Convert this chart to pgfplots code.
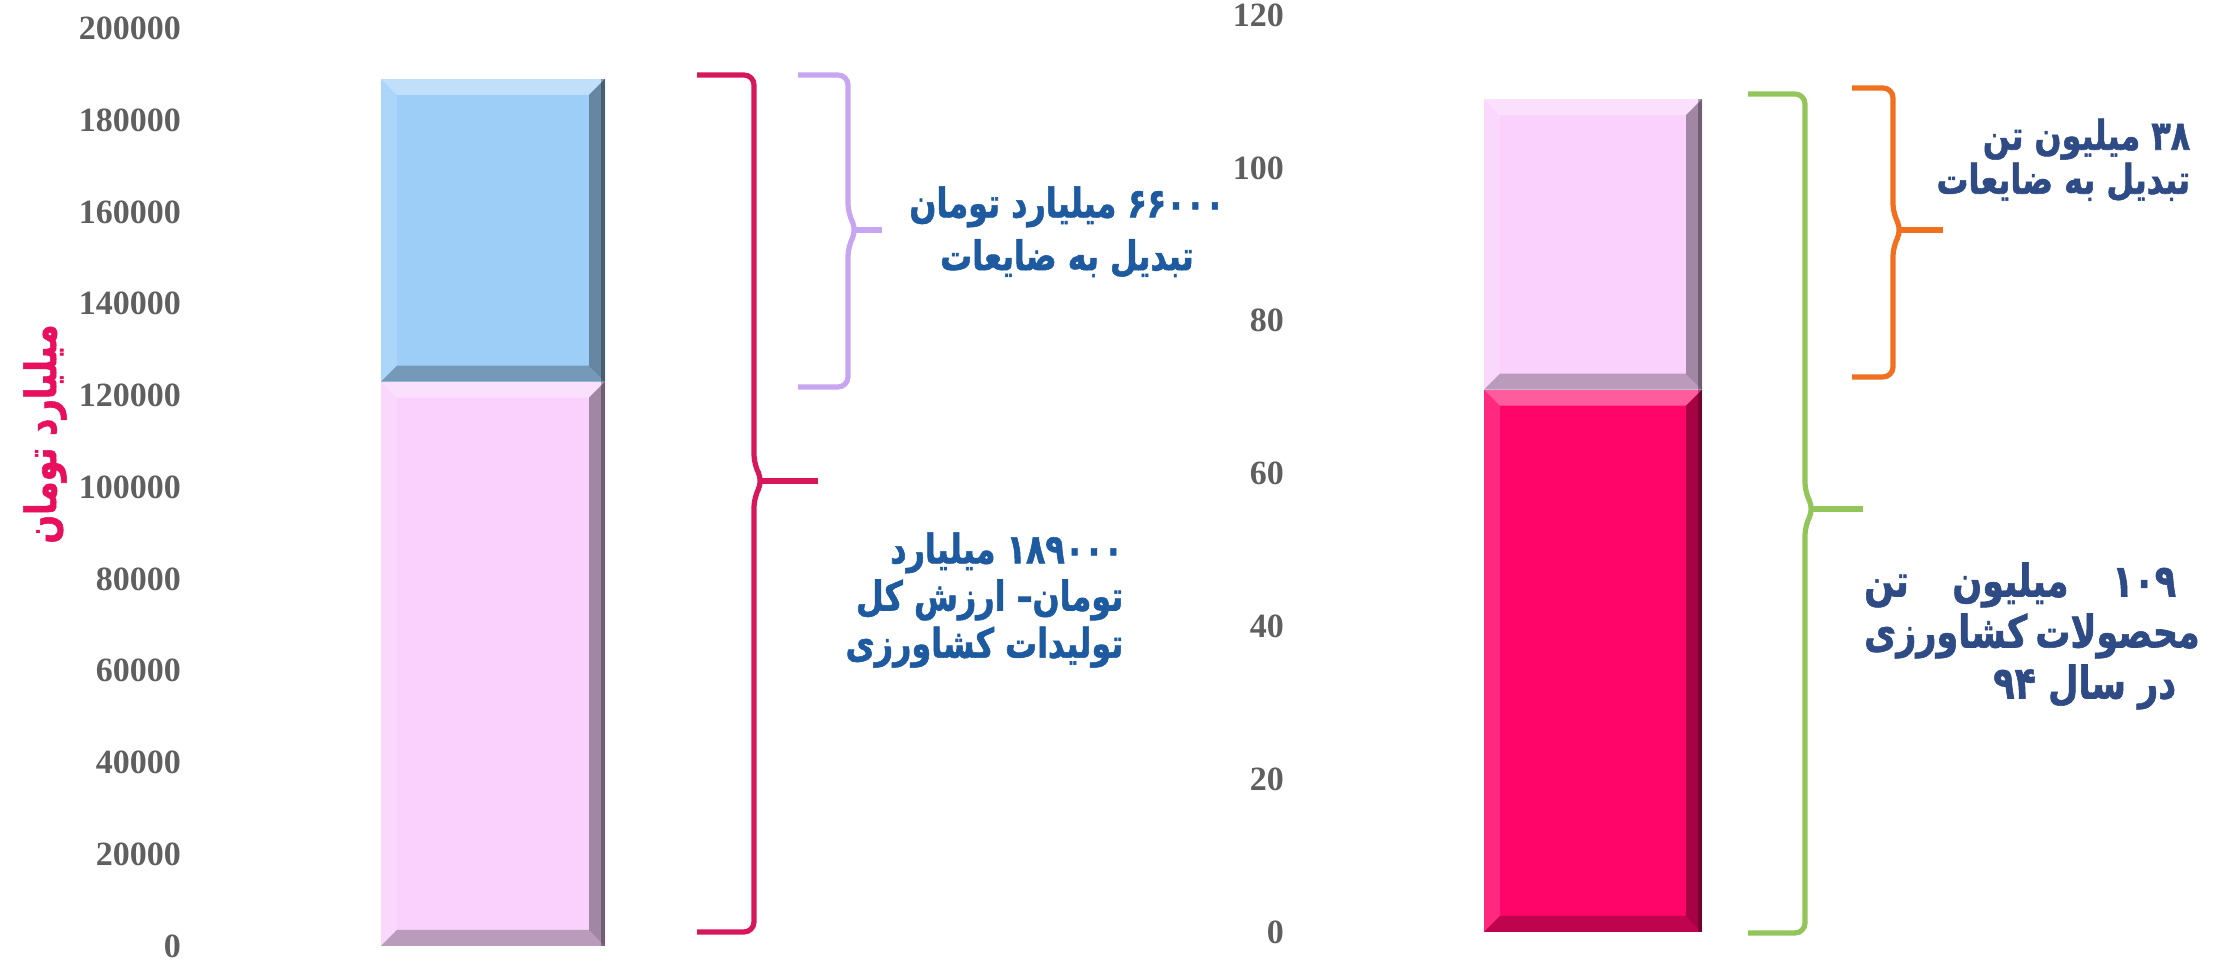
\documentclass[border=0pt]{standalone}
\usepackage{fontspec}
\setmainfont{Liberation Serif}
\newfontfamily\fa[Script=Arabic, FakeStretch=0.78, BoldFeatures={FakeBold=1.3}]{DejaVu Sans}
\TeXXeTstate=1
\usepackage{pgfplots}
\pgfplotsset{compat=1.18}
\definecolor{bluel}{RGB}{157,206,248}
\definecolor{pinkl}{RGB}{250,208,252}
\definecolor{pinkh}{RGB}{255,5,105}
\definecolor{bred}{RGB}{214,24,90}
\definecolor{bpurple}{RGB}{200,165,240}
\definecolor{bgreen}{RGB}{146,197,90}
\definecolor{borange}{RGB}{240,112,32}
\definecolor{ylab}{RGB}{232,16,94}
\definecolor{bluet}{RGB}{30,90,160}
\definecolor{navyt}{RGB}{47,75,133}
\definecolor{tickgray}{RGB}{95,95,95}
\newcommand\brc[7]{%
  \draw[#1, line width=1.3pt, rounded corners=2.5pt] (#2,#5) -- (#3,#5) -- (#3,#7-16) -- (#3+9,#7) -- (#3,#7+16) -- (#3,#6) -- (#2,#6);
  \draw[#1, line width=1.3pt] (#3+8,#7) -- (#4,#7);}
\def\SW{path picture bounding box.south west}
\def\NE{path picture bounding box.north east}
\def\NW{path picture bounding box.north west}
\def\SE{path picture bounding box.south east}
\tikzset{bevel/.style={path picture={
  \fill[path picture={}, white, opacity=0.35] (\NW) -- (\NE) -- ([shift={(-4pt,-4pt)}]\NE) -- ([shift={(4pt,-4pt)}]\NW) -- cycle;
  \fill[path picture={}, white, opacity=0.15] (\SW) -- (\NW) -- ([shift={(4pt,-4pt)}]\NW) -- ([shift={(4pt,4pt)}]\SW) -- cycle;
  \fill[path picture={}, black, opacity=0.35] (\NE) -- (\SE) -- ([shift={(-4pt,4pt)}]\SE) -- ([shift={(-4pt,-4pt)}]\NE) -- cycle;
  \fill[path picture={}, black, opacity=0.25] (\SW) -- (\SE) -- ([shift={(-4pt,4pt)}]\SE) -- ([shift={(4pt,4pt)}]\SW) -- cycle;
  \fill[path picture={}, black, opacity=0.3] ([shift={(-1pt,0pt)}]\SE) rectangle (\NE);
}}}
\begin{document}
\begin{tikzpicture}
\useasboundingbox (0,0) rectangle (557.75pt,240.25pt);
\pgfplotsset{every axis/.style={scale only axis, anchor=south west, clip=false,
  axis line style={draw=none}, major tick length=0pt, xtick=\empty,
  scaled y ticks=false,
  /pgf/number format/assume math mode=true,
  yticklabel style={/pgf/number format/fixed, /pgf/number format/precision=0,
    /pgf/number format/1000 sep={}, font=\fontsize{8.5}{8.5}\selectfont\bfseries, text=tickgray},
  ybar stacked}}
\begin{axis}[at={(48.75pt,3.75pt)}, width=151.25pt, height=229.375pt,
  xmin=195, xmax=800, ymin=0, ymax=200000,
  ytick={0,20000,40000,60000,80000,100000,120000,140000,160000,180000,200000},
  bar width=56pt]
\addplot[fill=pinkl, draw=none, bevel] coordinates {(493,123000)};
\addplot[fill=bluel, draw=none, bevel] coordinates {(493,66000)};
\end{axis}
\begin{axis}[at={(324.5pt,7.25pt)}, width=233.25pt, height=229.2pt,
  xmin=1298, xmax=2231, ymin=0, ymax=120,
  ytick={0,20,40,60,80,100,120},
  bar width=54.5pt]
\addplot[fill=pinkh, draw=none, bevel] coordinates {(1593,71)};
\addplot[fill=pinkl, draw=none, bevel] coordinates {(1593,38)};
\end{axis}
\begin{scope}[x=0.25pt, y=-0.25pt, shift={(0,240.25pt)}]
\brc{bred}{697}{754}{818}{75}{932}{481}
\brc{bpurple}{798}{848}{882}{75}{387}{230}
\brc{bgreen}{1748}{1805}{1863}{94}{933}{509}
\brc{borange}{1852}{1893}{1943}{88}{377}{230}
\node[rotate=90, text=ylab, font=\fa\bfseries\fontsize{10.8}{12}\selectfont] at (45,434) {\beginR میلیارد تومان\endR};
\node[align=center, inner sep=0, text=bluet, font=\fa\bfseries\fontsize{10.2}{13.2}\selectfont] at (1067,232)
  {\beginR ۶۶۰۰۰ میلیارد تومان\endR\\\beginR تبدیل به ضایعات\endR};
\node[anchor=east, align=right, inner sep=0, text=bluet, font=\fa\bfseries\fontsize{10.2}{11.8}\selectfont] at (1124,600)
  {\beginR ۱۸۹۰۰۰ میلیارد\endR\\\beginR تومان– ارزش کل\endR\\\beginR تولیدات کشاورزی\endR};
\node[anchor=east, align=right, inner sep=0, text=navyt, font=\fa\bfseries\fontsize{10.2}{11}\selectfont] at (2191,160)
  {\beginR ۳۸ میلیون تن\endR\\\beginR تبدیل به ضایعات\endR};
\node[anchor=east, align=right, inner sep=0, text=navyt, font=\fa\bfseries\fontsize{11.2}{12.75}\selectfont] at (2177,636)
  {\hbox to 78pt{\beginR ۱۰۹\ \hfill میلیون\ \hfill تن\endR}\\\hbox to 78pt{\beginR محصولات\ \hfill کشاورزی\endR}\\\beginR در سال ۹۴\endR};
\end{scope}
\end{tikzpicture}
\end{document}
